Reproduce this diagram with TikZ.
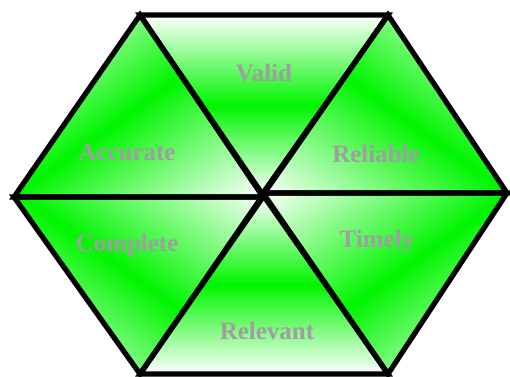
\documentclass[tikz,border=0pt]{standalone}
\usepackage{fontspec}
\setmainfont{Liberation Serif}
\definecolor{lblgray}{RGB}{160,158,162}
\definecolor{hexgreen}{RGB}{0,245,0}
\tikzset{
  edge/.style={line width=5.2pt, line join=miter, draw=black},
  lbl/.style={font=\bfseries\fontsize{25}{28}\selectfont, text=lblgray, inner sep=0pt},
  grad/.style={top color=white, bottom color=white, middle color=hexgreen}
}
\begin{document}
\begin{tikzpicture}[x=1pt,y=-1pt]
\useasboundingbox (0,0) rectangle (510,376);
% vertices
\coordinate (TL) at (140,15);
\coordinate (TR) at (388,15);
\coordinate (R)  at (507,193);
\coordinate (BR) at (388,374);
\coordinate (BL) at (140,374);
\coordinate (L)  at (14,197);
\coordinate (Cl) at (263,197);
\coordinate (Cr) at (263,193);
\coordinate (C)  at (263,195);
% Valid
\begin{scope}
  \clip (TL) -- (TR) -- (C) -- cycle;
  \shade[grad] (130,15) rectangle (400,195);
\end{scope}
% Relevant
\begin{scope}
  \clip (C) -- (BL) -- (BR) -- cycle;
  \shade[grad] (130,195) rectangle (400,374);
\end{scope}
% Reliable
\begin{scope}
  \clip (Cr) -- (TR) -- (R) -- cycle;
  \begin{scope}[transform canvas={shift={(350,80)},rotate=-35.5}]
    \shade[grad] (-400,-144) rectangle (400,144);
  \end{scope}
\end{scope}
% Accurate
\begin{scope}
  \clip (TL) -- (L) -- (Cl) -- cycle;
  \begin{scope}[transform canvas={shift={(176,80)},rotate=35.5}]
    \shade[grad] (-400,-144) rectangle (400,144);
  \end{scope}
\end{scope}
% Timely
\begin{scope}
  \clip (Cr) -- (R) -- (BR) -- cycle;
  \begin{scope}[transform canvas={shift={(350,307)},rotate=35.5}]
    \shade[grad] (-400,-144) rectangle (400,144);
  \end{scope}
\end{scope}
% Complete
\begin{scope}
  \clip (L) -- (Cl) -- (BL) -- cycle;
  \begin{scope}[transform canvas={shift={(176,307)},rotate=-35.5}]
    \shade[grad] (-400,-144) rectangle (400,144);
  \end{scope}
\end{scope}
% outlines
\draw[edge] (TL) -- (TR) -- (C) -- cycle;
\draw[edge] (C) -- (BL) -- (BR) -- cycle;
\draw[edge] (Cr) -- (TR) -- (R) -- cycle;
\draw[edge] (TL) -- (L) -- (Cl) -- cycle;
\draw[edge] (Cr) -- (R) -- (BR) -- cycle;
\draw[edge] (L) -- (Cl) -- (BL) -- cycle;
% labels
\node[lbl] (valid) at (264,73) {Valid};
\node[lbl] (accurate) at (127,152) {Accurate};
\node[lbl] (reliable) at (376,154) {Reliable};
\node[lbl] (complete) at (127,245) {Complete};
\node[lbl] (timely) at (377,242) {Timely};
\node[lbl] (relevant) at (267,331) {Relevant};
\end{tikzpicture}
\end{document}
